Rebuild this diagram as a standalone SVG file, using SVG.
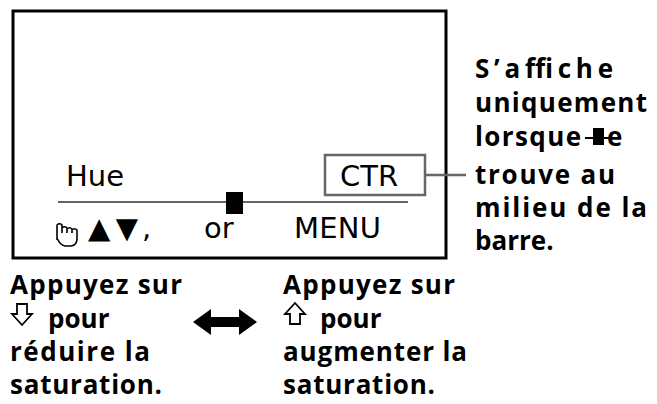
<svg xmlns="http://www.w3.org/2000/svg" width="657" height="404" viewBox="0 0 657 404">
<style>
.scr{font-family:"DejaVu Sans",sans-serif;font-size:29px;fill:#000}
.lb{font-family:"Open Sans","DejaVu Sans",sans-serif;font-weight:bold;font-size:26px;fill:#000}
</style>
<rect width="657" height="404" fill="#fff"/>
<g id="screen">
<rect x="13" y="11" width="433" height="247" fill="#fff" stroke="#000" stroke-width="3"/>
<text class="scr" x="66" y="186">Hue</text>
<line x1="58" y1="202" x2="408" y2="202" stroke="#666" stroke-width="2"/>
<rect x="226" y="192" width="17" height="22" fill="#000"/>
<path d="M57 240 v-15 q2.5-2.5 5 0 v8 v-5 q2.5-2.5 5 0 v5 v-4 q2.5-2.5 5 0 v4 v-3 q2.5-2.5 5 0 v9 q0 6-6 7 h-6 q-5-1-8-8 z" fill="none" stroke="#000" stroke-width="1.6"/>
<text class="scr" x="88" y="238" textLength="50">▲▼</text>
<text class="scr" x="142" y="238">,</text>
<text class="scr" x="204" y="238">or</text>
<text class="scr" x="294" y="238" textLength="87">MENU</text>
</g>
<g id="ctr">
<rect x="325" y="155" width="100" height="40" fill="#fff" stroke="#666" stroke-width="2.5"/>
<text class="scr" x="340" y="186">CTR</text>
</g>
<g id="connectors">
<line x1="425" y1="175" x2="466" y2="175" stroke="#666" stroke-width="2.5"/>
<path d="M193 322 L211 309 V317 H239 V309 L257 322 L239 335 V327 H211 V335 Z" fill="#000"/>
</g>
<g id="note">
<text class="lb" x="475" y="78" textLength="138">S’affiche</text>
<text class="lb" x="475" y="112" textLength="172">uniquement</text>
<text class="lb" x="475" y="146" textLength="106">lorsque</text>
<line x1="585" y1="138" x2="612" y2="138" stroke="#000" stroke-width="2"/>
<rect x="593" y="128" width="11" height="17" fill="#000"/>
<text class="lb" x="607" y="146">e</text>
<text class="lb" x="475" y="184" textLength="140">trouve au</text>
<text class="lb" x="475" y="217" textLength="172">milieu de la</text>
<text class="lb" x="475" y="250">barre.</text>
</g>
<g id="left">
<text class="lb" x="10" y="294" textLength="172">Appuyez sur</text>
<path d="M17 304 h10 v10 h5 l-10 11 l-10 -11 h5 z" fill="#fff" stroke="#000" stroke-width="1.8"/>
<text class="lb" x="48" y="328">pour</text>
<text class="lb" x="10" y="361" textLength="140">réduire la</text>
<text class="lb" x="10" y="394" textLength="152">saturation.</text>
</g>
<g id="right">
<text class="lb" x="283" y="294" textLength="172">Appuyez sur</text>
<path d="M290 324 h10 v-10 h5 l-10 -11 l-10 11 h5 z" fill="#fff" stroke="#000" stroke-width="1.8"/>
<text class="lb" x="320" y="328">pour</text>
<text class="lb" x="283" y="361" textLength="184">augmenter la</text>
<text class="lb" x="283" y="394" textLength="152">saturation.</text>
</g>
</svg>
